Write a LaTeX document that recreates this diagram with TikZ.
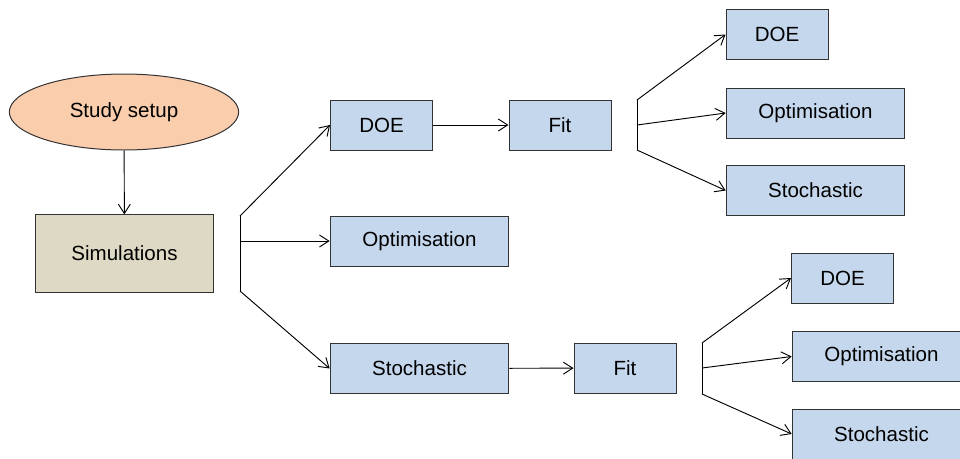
\documentclass[tikz,border=0pt]{standalone}
\usepackage{fontspec}
\setmainfont{Liberation Sans}
\usepackage{tikz}
\usetikzlibrary{positioning, arrows.meta, shapes.geometric, calc}
\definecolor{setupFill}{RGB}{250,205,172}
\definecolor{simFill}{RGB}{221,217,196}
\definecolor{stepFill}{RGB}{197,215,236}
\colorlet{edgeGray}{black!80}

\begin{document}
\begin{tikzpicture}[
  x=0.75pt, y=-0.75pt,
  every node/.style={font=\fontsize{15.4}{18}\selectfont, inner sep=0pt},
  box/.style={draw=edgeGray, line width=0.75pt, fill=stepFill,
              minimum height=37.5pt},
  narrow/.style={box, minimum width=76.5pt},
  wide/.style={box, minimum width=134pt},
  arr/.style={line width=0.7pt, -{Straight Barb[length=7pt,width=9pt]}},
  brk/.style={line width=0.7pt},
]
  \useasboundingbox (0,0) rectangle (960,458);
  \clip (0,0) rectangle (960,458);

  \node[ellipse, draw=edgeGray, line width=0.75pt, fill=setupFill,
        minimum width=172pt, minimum height=57pt] (setup) at (124,112) {Study setup};
  \node[draw=edgeGray, line width=0.75pt, fill=simFill,
        minimum width=134pt, minimum height=58pt] (sim) at (124.5,253.5) {Simulations};

  % first level
  \node[narrow] (doeA) at (381.5,125)   {DOE};
  \node[narrow] (fitA) at (560,125)     {Fit};
  \node[wide]   (optA) at (419.5,241)   {Optimisation};
  \node[wide]   (stoA) at (419.5,368.5) {Stochastic};
  \node[narrow] (fitB) at (625,368)     {Fit};

  % after the upper fit
  \node[narrow] (doeC) at (777,34.5)    {DOE};
  \node[wide]   (optC) at (815.5,113)   {Optimisation};
  \node[wide]   (stoC) at (815.5,190.5) {Stochastic};

  % after the lower fit
  \node[narrow] (doeD) at (842.5,278)   {DOE};
  \node[wide]   (optD) at (881.5,356.5) {Optimisation};
  \node[wide]   (stoD) at (881.5,434)   {Stochastic};

  \draw[arr] (setup) -- (sim);

  % fork out of the simulations
  \coordinate (forkAtop) at (240,216);
  \coordinate (forkAmid) at (240,241);
  \coordinate (forkAbot) at (240,291);
  \draw[brk] (forkAtop) -- (forkAbot);
  \draw[arr] (forkAtop) -- (doeA.west);
  \draw[arr] (forkAmid) -- (optA.west);
  \draw[arr] (forkAbot) -- (stoA.west);

  \draw[arr] (doeA) -- (fitA);
  \draw[arr] (stoA) -- (fitB);

  % fork after the upper fit
  \coordinate (forkCtop) at (637,100);
  \coordinate (forkCmid) at (637,125);
  \coordinate (forkCbot) at (637,150);
  \draw[brk] (forkCtop) -- (forkCbot);
  \draw[arr] (forkCtop) -- (doeC.west);
  \draw[arr] (forkCmid) -- (optC.west);
  \draw[arr] (forkCbot) -- (stoC.west);

  % fork after the lower fit
  \coordinate (forkDtop) at (702,343);
  \coordinate (forkDmid) at (702,368);
  \coordinate (forkDbot) at (702,394);
  \draw[brk] (forkDtop) -- (forkDbot);
  \draw[arr] (forkDtop) -- (doeD.west);
  \draw[arr] (forkDmid) -- (optD.west);
  \draw[arr] (forkDbot) -- (stoD.west);
\end{tikzpicture}
\end{document}
